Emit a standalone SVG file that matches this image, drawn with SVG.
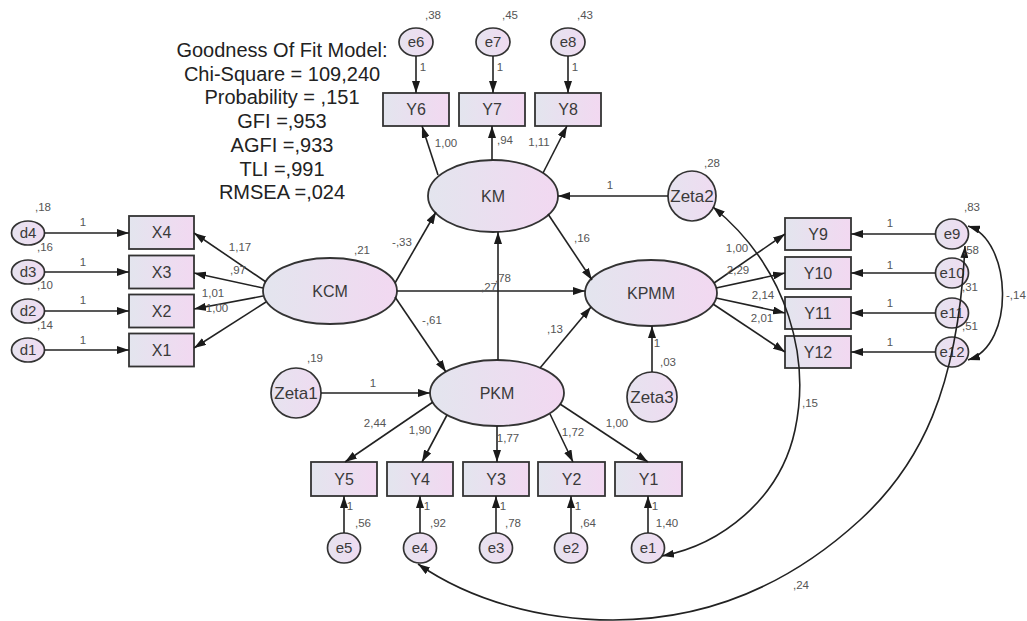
<svg xmlns="http://www.w3.org/2000/svg" width="1027" height="621" viewBox="0 0 1027 621">
  <defs>
    <linearGradient id="gBox" x1="0" y1="0" x2="1" y2="0">
      <stop offset="0" stop-color="#e3e5ee"/>
      <stop offset="1" stop-color="#f2d8f1"/>
    </linearGradient>
    <linearGradient id="gErr" x1="0" y1="0" x2="1" y2="0">
      <stop offset="0" stop-color="#e6e3ef"/>
      <stop offset="1" stop-color="#efdbf1"/>
    </linearGradient>
    <marker id="ah" viewBox="0 0 12 8" refX="12" refY="4" markerWidth="12" markerHeight="8" markerUnits="userSpaceOnUse" orient="auto-start-reverse">
      <path d="M0,0 L12,4 L0,8 z" fill="#1a1a1a"/>
    </marker>
  </defs>
  <style>
    .box{fill:url(#gBox);stroke:#333;stroke-width:1.8}
    .lat{fill:url(#gBox);stroke:#333;stroke-width:1.8}
    .err{fill:url(#gErr);stroke:#333;stroke-width:1.7}
    text{font-family:"Liberation Sans",Arial,sans-serif;text-anchor:middle}
    .lbl{font-size:16px;fill:#3a3a3a}
    .elbl{font-size:15px;fill:#3a3a3a}
    .zlbl{font-size:17px;fill:#3a3a3a}
    .num{font-size:11.5px;fill:#555}
    .fit{font-size:20px;fill:#222}
    .arr{fill:none;stroke:#222;stroke-width:1.6;marker-end:url(#ah)}
    .cov{fill:none;stroke:#222;stroke-width:1.6;marker-start:url(#ah);marker-end:url(#ah)}
  </style>

  <rect width="1027" height="621" fill="#ffffff"/>

  <!-- model fit summary -->
  <g id="fit">
    <text class="fit" x="282" y="57">Goodness Of Fit Model:</text>
    <text class="fit" x="282" y="81">Chi-Square = 109,240</text>
    <text class="fit" x="282" y="104">Probability = ,151</text>
    <text class="fit" x="282" y="128">GFI =,953</text>
    <text class="fit" x="282" y="152">AGFI =,933</text>
    <text class="fit" x="282" y="176">TLI =,991</text>
    <text class="fit" x="282" y="199">RMSEA =,024</text>
  </g>

  <!-- KM indicators -->
  <g id="e6"><ellipse class="err" cx="416" cy="42" rx="17" ry="14"/><text class="elbl" x="416" y="47">e6</text></g>
  <g id="e7"><ellipse class="err" cx="493" cy="42" rx="17" ry="14"/><text class="elbl" x="493" y="47">e7</text></g>
  <g id="e8"><ellipse class="err" cx="568" cy="42" rx="17" ry="14"/><text class="elbl" x="568" y="47">e8</text></g>
  <g id="Y6"><rect class="box" x="383" y="93" width="66" height="33"/><text class="lbl" x="416" y="115">Y6</text></g>
  <g id="Y7"><rect class="box" x="459" y="93" width="66" height="33"/><text class="lbl" x="492" y="115">Y7</text></g>
  <g id="Y8"><rect class="box" x="535" y="93" width="66" height="33"/><text class="lbl" x="568" y="115">Y8</text></g>

  <!-- latent variables -->
  <g id="KM"><ellipse class="lat" cx="493" cy="196" rx="65" ry="36"/><text class="lbl" x="493" y="202">KM</text></g>
  <g id="KCM"><ellipse class="lat" cx="330" cy="291" rx="67" ry="33"/><text class="lbl" x="330" y="297">KCM</text></g>
  <g id="PKM"><ellipse class="lat" cx="497" cy="393" rx="67" ry="33"/><text class="lbl" x="497" y="399">PKM</text></g>
  <g id="KPMM"><ellipse class="lat" cx="651" cy="293" rx="66" ry="33"/><text class="lbl" x="651" y="299">KPMM</text></g>

  <!-- structural disturbances -->
  <g id="Zeta1"><ellipse class="err" cx="296" cy="393" rx="25" ry="25"/><text class="zlbl" x="296" y="399">Zeta1</text></g>
  <g id="Zeta2"><ellipse class="err" cx="692" cy="196" rx="24" ry="25"/><text class="zlbl" x="692" y="202">Zeta2</text></g>
  <g id="Zeta3"><ellipse class="err" cx="652" cy="397" rx="25" ry="25"/><text class="zlbl" x="652" y="403">Zeta3</text></g>

  <!-- KCM indicators -->
  <g id="d4"><ellipse class="err" cx="28" cy="233" rx="16.5" ry="12"/><text class="elbl" x="28" y="238">d4</text></g>
  <g id="d3"><ellipse class="err" cx="28" cy="272" rx="16.5" ry="12"/><text class="elbl" x="28" y="277">d3</text></g>
  <g id="d2"><ellipse class="err" cx="28" cy="311" rx="16.5" ry="12"/><text class="elbl" x="28" y="316">d2</text></g>
  <g id="d1"><ellipse class="err" cx="28" cy="350" rx="16.5" ry="12"/><text class="elbl" x="28" y="355">d1</text></g>
  <g id="X4"><rect class="box" x="129" y="216" width="65" height="33"/><text class="lbl" x="161.5" y="238">X4</text></g>
  <g id="X3"><rect class="box" x="129" y="255.5" width="65" height="33"/><text class="lbl" x="161.5" y="277.5">X3</text></g>
  <g id="X2"><rect class="box" x="129" y="294.5" width="65" height="33"/><text class="lbl" x="161.5" y="316.5">X2</text></g>
  <g id="X1"><rect class="box" x="129" y="333.5" width="65" height="33"/><text class="lbl" x="161.5" y="355.5">X1</text></g>

  <!-- KPMM indicators -->
  <g id="Y9"><rect class="box" x="785" y="218" width="66" height="32"/><text class="lbl" x="818" y="239.5">Y9</text></g>
  <g id="Y10"><rect class="box" x="785" y="257" width="66" height="32"/><text class="lbl" x="818" y="278.5">Y10</text></g>
  <g id="Y11"><rect class="box" x="785" y="297" width="66" height="32"/><text class="lbl" x="818" y="318.5">Y11</text></g>
  <g id="Y12"><rect class="box" x="785" y="336" width="66" height="32"/><text class="lbl" x="818" y="357.5">Y12</text></g>
  <g id="e9"><ellipse class="err" cx="952" cy="234" rx="16.5" ry="15"/><text class="elbl" x="952" y="239">e9</text></g>
  <g id="e10"><ellipse class="err" cx="952" cy="273" rx="16.5" ry="15"/><text class="elbl" x="952" y="278">e10</text></g>
  <g id="e11"><ellipse class="err" cx="952" cy="313" rx="16.5" ry="15"/><text class="elbl" x="952" y="318">e11</text></g>
  <g id="e12"><ellipse class="err" cx="952" cy="352" rx="16.5" ry="15"/><text class="elbl" x="952" y="357">e12</text></g>

  <!-- PKM indicators -->
  <g id="Y5"><rect class="box" x="311" y="462" width="66" height="34"/><text class="lbl" x="344" y="485">Y5</text></g>
  <g id="Y4"><rect class="box" x="387" y="462" width="66" height="34"/><text class="lbl" x="420" y="485">Y4</text></g>
  <g id="Y3"><rect class="box" x="463" y="462" width="66" height="34"/><text class="lbl" x="496" y="485">Y3</text></g>
  <g id="Y2"><rect class="box" x="538" y="462" width="67" height="34"/><text class="lbl" x="571.5" y="485">Y2</text></g>
  <g id="Y1"><rect class="box" x="615" y="462" width="67" height="34"/><text class="lbl" x="648.5" y="485">Y1</text></g>
  <g id="e5"><ellipse class="err" cx="344" cy="548" rx="16.5" ry="15"/><text class="elbl" x="344" y="553">e5</text></g>
  <g id="e4"><ellipse class="err" cx="420" cy="548" rx="16.5" ry="15"/><text class="elbl" x="420" y="553">e4</text></g>
  <g id="e3"><ellipse class="err" cx="496" cy="548" rx="16.5" ry="15"/><text class="elbl" x="496" y="553">e3</text></g>
  <g id="e2"><ellipse class="err" cx="571" cy="548" rx="16.5" ry="15"/><text class="elbl" x="571" y="553">e2</text></g>
  <g id="e1"><ellipse class="err" cx="648" cy="548" rx="16.5" ry="15"/><text class="elbl" x="648" y="553">e1</text></g>

  <!-- paths, loadings and covariances -->
  <g id="connectors">
    <path class="arr" d="M416,56 L416,93"/>
    <path class="arr" d="M493,56 L493,93"/>
    <path class="arr" d="M568,56 L568,93"/>
    <path class="arr" d="M438,175 L422,126"/>
    <path class="arr" d="M492,160 L492,126"/>
    <path class="arr" d="M543,173 L567,126"/>

    <path class="arr" d="M668,196 L558,196"/>
    <path class="arr" d="M395,283 L436,212"/>
    <path class="arr" d="M395,297 L446,372"/>
    <path class="arr" d="M397,291 L585,291"/>
    <path class="arr" d="M498,360 L498,232"/>
    <path class="arr" d="M548,214 L592,280"/>
    <path class="arr" d="M540,368 L591,307"/>
    <path class="arr" d="M652,372 L652,326"/>
    <path class="arr" d="M321,393 L430,393"/>

    <path class="arr" d="M266,282 L194,233"/>
    <path class="arr" d="M263,288 L194,273"/>
    <path class="arr" d="M263,296 L194,309"/>
    <path class="arr" d="M266,302 L194,348"/>
    <path class="arr" d="M44.5,233 L129,233"/>
    <path class="arr" d="M44.5,272 L129,272"/>
    <path class="arr" d="M44.5,311 L129,311"/>
    <path class="arr" d="M44.5,350 L129,350"/>

    <path class="arr" d="M714,283 L785,234"/>
    <path class="arr" d="M716,288 L785,273"/>
    <path class="arr" d="M716,298 L785,313"/>
    <path class="arr" d="M713,304 L785,352"/>
    <path class="arr" d="M935.5,234 L851,234"/>
    <path class="arr" d="M935.5,273 L851,273"/>
    <path class="arr" d="M935.5,313 L851,313"/>
    <path class="arr" d="M935.5,352 L851,352"/>

    <path class="arr" d="M433,402 L345,462"/>
    <path class="arr" d="M447,415 L422,462"/>
    <path class="arr" d="M497,426 L497,462"/>
    <path class="arr" d="M550,414 L573,462"/>
    <path class="arr" d="M560,404 L648,462"/>
    <path class="arr" d="M344,533 L344,496"/>
    <path class="arr" d="M420,533 L420,496"/>
    <path class="arr" d="M496,533 L496,496"/>
    <path class="arr" d="M571,533 L571,496"/>
    <path class="arr" d="M648,533 L648,496"/>

    <path class="cov" d="M968,226 C1012,240 1016,345 968,360"/>
    <path class="cov" d="M418,564 C470,600 540,620 613,620 C720,620 800,575 860,520 C920,465 958,390 965,246"/>
    <path class="cov" d="M713,207 C790,270 810,360 795,430 C780,500 720,545 662,556"/>
  </g>

  <!-- estimates -->
  <g id="estimates">
    <text class="num" x="433" y="19">,38</text>
    <text class="num" x="510" y="19">,45</text>
    <text class="num" x="585" y="19">,43</text>
    <text class="num" x="423" y="71">1</text>
    <text class="num" x="500" y="71">1</text>
    <text class="num" x="575" y="71">1</text>
    <text class="num" x="446" y="147">1,00</text>
    <text class="num" x="505" y="144">,94</text>
    <text class="num" x="539" y="146">1,11</text>

    <text class="num" x="712" y="167">,28</text>
    <text class="num" x="610" y="189">1</text>
    <text class="num" x="402" y="246">-,33</text>
    <text class="num" x="362" y="254">,21</text>
    <text class="num" x="582" y="242">,16</text>
    <text class="num" x="489" y="291">,27</text>
    <text class="num" x="503" y="282">,78</text>
    <text class="num" x="432" y="324">-,61</text>
    <text class="num" x="555" y="333">,13</text>
    <text class="num" x="315" y="362">,19</text>
    <text class="num" x="373" y="387">1</text>
    <text class="num" x="668" y="366">,03</text>
    <text class="num" x="657" y="347">1</text>

    <text class="num" x="43" y="211">,18</text>
    <text class="num" x="45" y="251">,16</text>
    <text class="num" x="45" y="289">,10</text>
    <text class="num" x="45" y="329">,14</text>
    <text class="num" x="83" y="226">1</text>
    <text class="num" x="83" y="266">1</text>
    <text class="num" x="83" y="304">1</text>
    <text class="num" x="83" y="344">1</text>
    <text class="num" x="240" y="251">1,17</text>
    <text class="num" x="238" y="274">,97</text>
    <text class="num" x="213" y="297">1,01</text>
    <text class="num" x="217" y="312">1,00</text>

    <text class="num" x="737" y="252">1,00</text>
    <text class="num" x="738" y="274">2,29</text>
    <text class="num" x="763" y="299">2,14</text>
    <text class="num" x="762" y="322">2,01</text>
    <text class="num" x="890" y="227">1</text>
    <text class="num" x="890" y="269">1</text>
    <text class="num" x="890" y="307">1</text>
    <text class="num" x="890" y="346">1</text>
    <text class="num" x="972" y="211">,83</text>
    <text class="num" x="971" y="254">,58</text>
    <text class="num" x="970" y="291">,31</text>
    <text class="num" x="970" y="330">,51</text>
    <text class="num" x="1006" y="299" style="text-anchor:start">-,14</text>
    <text class="num" x="810" y="407">,15</text>
    <text class="num" x="801" y="589">,24</text>

    <text class="num" x="375" y="427">2,44</text>
    <text class="num" x="420" y="434">1,90</text>
    <text class="num" x="508" y="442">1,77</text>
    <text class="num" x="573" y="436">1,72</text>
    <text class="num" x="617" y="427">1,00</text>
    <text class="num" x="350" y="510">1</text>
    <text class="num" x="427" y="510">1</text>
    <text class="num" x="503" y="510">1</text>
    <text class="num" x="578" y="510">1</text>
    <text class="num" x="655" y="510">1</text>
    <text class="num" x="363" y="527">,56</text>
    <text class="num" x="438" y="527">,92</text>
    <text class="num" x="513" y="527">,78</text>
    <text class="num" x="588" y="527">,64</text>
    <text class="num" x="667" y="527">1,40</text>
  </g>
</svg>
